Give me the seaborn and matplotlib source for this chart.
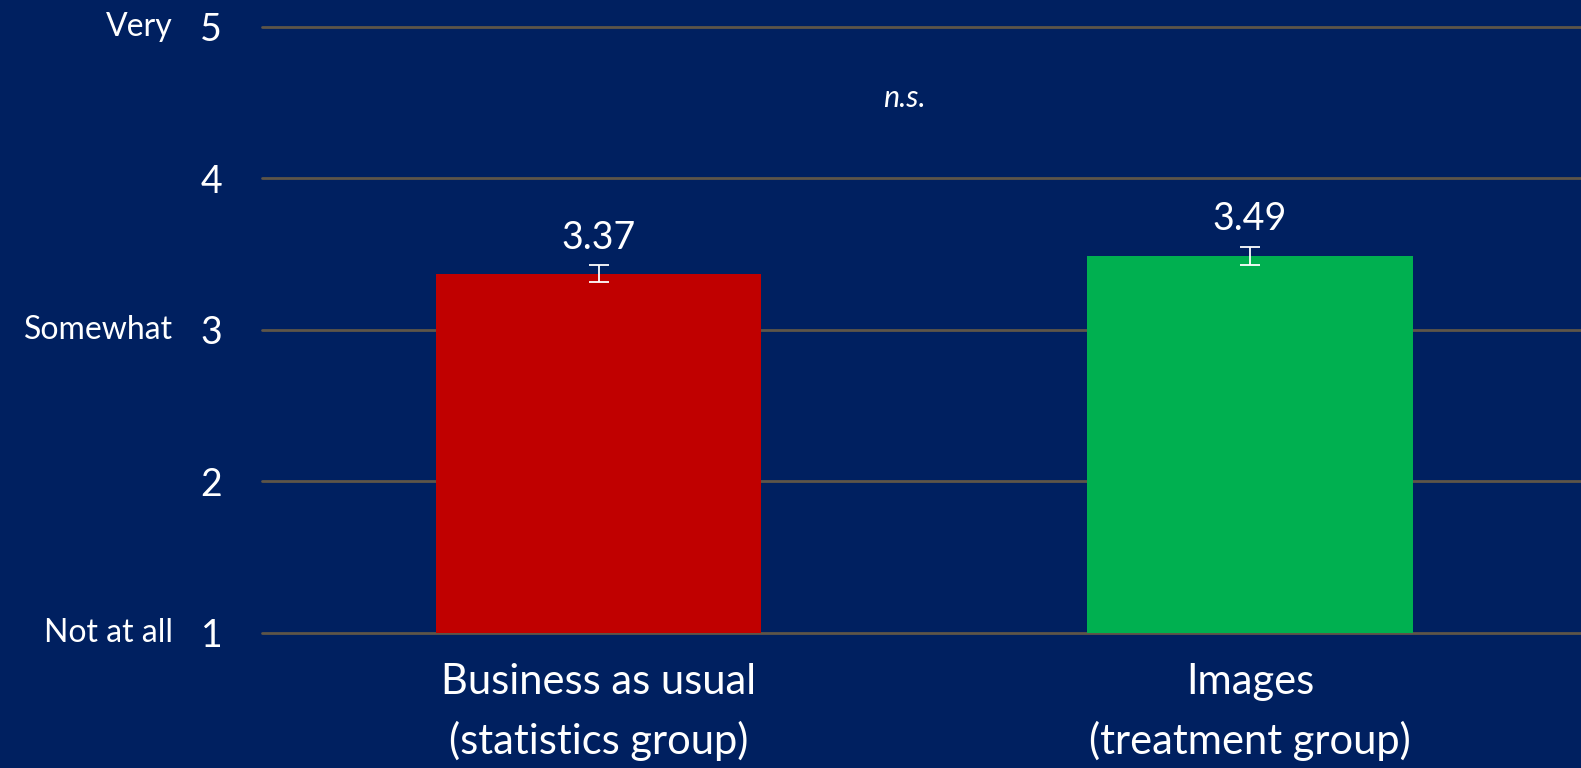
import matplotlib
matplotlib.use("Agg")
import matplotlib.pyplot as plt
import seaborn as sns
import pandas as pd

# Group means and standard errors
groups = ["Business as usual\n(statistics group)", "Images\n(treatment group)"]
means = [3.37, 3.49]
sems = [0.055, 0.06]
bar_colors = ["#C00000", "#00B050"]

y_ticks = [1, 2, 3, 4, 5]
scale_labels = {5: "Very", 3: "Somewhat", 1: "Not at all"}
sig_label = "n.s."

BG = "#002060"
GRID = "#5E5548"
FONT = ["Lato", "DejaVu Sans"]

sns.set_theme(style="white")
plt.rcParams["font.family"] = FONT

df = pd.DataFrame({"group": groups, "mean": means})

fig = plt.figure(figsize=(15.81, 7.68), dpi=100, facecolor=BG)
ax = fig.add_axes([0.166, 0.176, 0.834, 0.789])
ax.set_facecolor(BG)

sns.barplot(data=df, x="group", y="mean", hue="group", palette=bar_colors,
            width=0.5, errorbar=None, legend=False, ax=ax, zorder=3,
            saturation=1, linewidth=0)
# bars start at the bottom of the scale (1)
for patch in ax.patches:
    top = patch.get_y() + patch.get_height()
    patch.set_y(1)
    patch.set_height(top - 1)
    patch.set_edgecolor("none")

ax.errorbar(range(len(means)), means, yerr=sems, fmt="none", ecolor="white",
            elinewidth=1.3, capsize=7, capthick=1.3, zorder=4)

for i, m in enumerate(means):
    ax.text(i, m + sems[i] + 0.06, f"{m:.2f}", ha="center", va="bottom",
            color="white", fontsize=27)

ax.text(0.47, 4.53, sig_label, ha="center", va="center", color="white",
        fontsize=22, style="italic")

ax.set_ylim(1, 5)
ax.set_xlim(-0.516, 1.508)
ax.set_yticks(y_ticks)
ax.set_yticklabels([str(t) for t in y_ticks], color="white", fontsize=27)
ax.tick_params(axis="y", length=0, pad=29)
ax.tick_params(axis="x", length=0, pad=22, colors="white", labelsize=30)
for lbl in ax.get_xticklabels():
    lbl.set_linespacing(1.6)
ax.set_xlabel("")
ax.set_ylabel("")

ax.yaxis.grid(True, color=GRID, linewidth=2, zorder=0)
ax.set_axisbelow(True)
for gl in ax.get_ygridlines():
    gl.set_clip_on(False)
for s in ax.spines.values():
    s.set_visible(False)

for val, text in scale_labels.items():
    ax.text(-0.068, val, text, transform=ax.get_yaxis_transform(),
            ha="right", va="center", color="white", fontsize=23)

fig.savefig("out.png", dpi=100, facecolor=BG)
